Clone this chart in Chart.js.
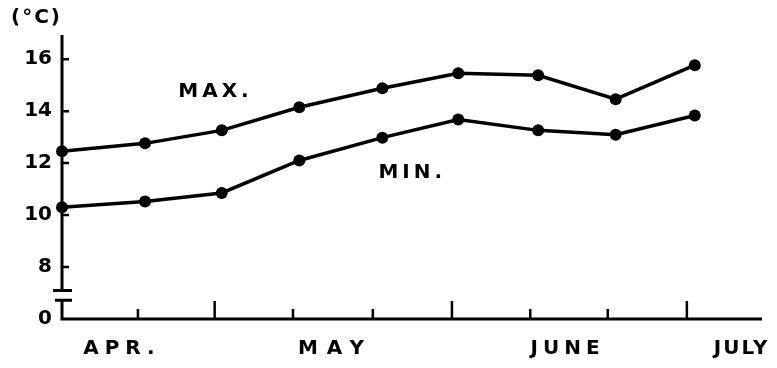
<!DOCTYPE html>
<html>
<head>
<meta charset="utf-8">
<script src="https://cdn.jsdelivr.net/npm/chart.js@4"></script>
<style>
  html, body { margin: 0; padding: 0; background: #fff; }
  canvas { display: block; }
</style>
</head>
<body>
<canvas id="tempChart" width="777" height="368"></canvas>
<script>
// ten-day mean temperatures, Apr - early July
const pointAt = [0, 1.05, 2.02, 3.0, 4.05, 5.01, 6.02, 7.0, 8.0];
const maxTemp = [12.46, 12.76, 13.26, 14.15, 14.88, 15.46, 15.38, 14.46, 15.77];
const minTemp = [10.30, 10.52, 10.85, 12.10, 12.98, 13.68, 13.26, 13.09, 13.83];

// y axis is broken below 8, the bottom tick stands for 0
const yTicks = [6, 8, 10, 12, 14, 16];
const yTickLabels = ['0', '8', '10', '12', '14', '16'];

// x tick marks, the long ones split the months
const xTicks = [0.96, 1.93, 2.92, 3.93, 4.93, 5.92, 6.90, 7.90];
const xTickLong = [false, true, false, false, true, false, false, true];
const months = ['APR.', 'MAY', 'JUNE', 'JULY'];
const monthAt = [0.72, 3.40, 6.36, 8.58];

// curve names, anchored in data units
const seriesNames = ['MAX.', 'MIN.'];
const nameAt = [[1.47, 14.53], [4.0, 11.44]];

const FONT = 'bold 20px "DejaVu Sans"';
const monthSpacing = [6, 9, 5, 2];

function pts(vals) {
    return pointAt.map((x, i) => ({ x: x, y: vals[i] }));
}

function lineSet(vals) {
    return {
        data: pts(vals),
        borderColor: '#000',
        backgroundColor: '#000',
        borderWidth: 3.5,
        pointRadius: 6,
        pointHoverRadius: 6,
        pointBackgroundColor: '#000',
        pointBorderWidth: 0,
        tension: 0,
        clip: false
    };
}

const axesPlugin = {
    id: 'axes',
    beforeDatasetsDraw(chart) {
        const ctx = chart.ctx;
        const xs = chart.scales.x, ys = chart.scales.y;
        const area = chart.chartArea;
        const x0 = xs.getPixelForValue(0);
        const yb = area.bottom;
        const brHi = ys.getPixelForValue(7.1);
        const brLo = ys.getPixelForValue(6.72);

        ctx.save();
        ctx.strokeStyle = '#000';
        ctx.lineWidth = 3;
        ctx.lineCap = 'butt';
        ctx.beginPath();
        // y axis with break
        ctx.moveTo(x0, area.top);
        ctx.lineTo(x0, brHi);
        ctx.moveTo(x0, brLo);
        ctx.lineTo(x0, yb);
        // x axis
        ctx.lineTo(area.right, yb);
        // break bars
        ctx.moveTo(x0 - 9, brHi);
        ctx.lineTo(x0 + 10, brHi);
        ctx.moveTo(x0 - 7, brLo);
        ctx.lineTo(x0 + 10, brLo);
        ctx.stroke();

        ctx.lineWidth = 2.5;
        ctx.beginPath();
        yTicks.forEach(v => {
            if (v <= 6) return;
            const y = ys.getPixelForValue(v);
            ctx.moveTo(x0, y);
            ctx.lineTo(x0 + 7, y);
        });
        xTicks.forEach((v, i) => {
            const x = xs.getPixelForValue(v);
            ctx.moveTo(x, yb);
            ctx.lineTo(x, yb - (xTickLong[i] ? 18 : 10));
        });
        ctx.stroke();

        // text
        ctx.fillStyle = '#000';
        ctx.font = FONT;
        ctx.textBaseline = 'middle';
        ctx.textAlign = 'left';
        ctx.letterSpacing = '2px';
        ctx.fillText('(°C)', 11, 18);

        ctx.textAlign = 'center';
        months.forEach((m, i) => {
            const sp = monthSpacing[i];
            ctx.letterSpacing = sp + 'px';
            ctx.fillText(m, xs.getPixelForValue(monthAt[i]) + sp / 2, 349);
        });

        ctx.textAlign = 'left';
        ctx.textBaseline = 'alphabetic';
        ctx.letterSpacing = '4px';
        seriesNames.forEach((n, i) => {
            ctx.fillText(n, xs.getPixelForValue(nameAt[i][0]), ys.getPixelForValue(nameAt[i][1]));
        });
        ctx.restore();
    }
};

const myChart = new Chart(document.getElementById('tempChart'), {
    type: 'line',
    data: { datasets: [lineSet(maxTemp), lineSet(minTemp)] },
    options: {
        responsive: false,
        animation: false,
        layout: { padding: { top: 35, right: 15, left: 0, bottom: 0 } },
        plugins: { legend: { display: false }, tooltip: { enabled: false } },
        scales: {
            x: {
                type: 'linear',
                min: 0,
                max: 8.85,
                grid: { display: false, drawTicks: false },
                border: { display: false },
                ticks: { display: false },
                afterFit: s => { s.height = 49; }
            },
            y: {
                type: 'linear',
                min: 6,
                max: 16.93,
                grid: { display: false, drawTicks: false },
                border: { display: false },
                afterBuildTicks: s => { s.ticks = yTicks.map(v => ({ value: v })); },
                ticks: {
                    padding: 10,
                    color: '#000',
                    font: { family: 'DejaVu Sans', size: 20, weight: 'bold' },
                    callback: v => yTickLabels[yTicks.indexOf(v)]
                },
                afterFit: s => { s.width = 62; }
            }
        }
    },
    plugins: [axesPlugin]
});
</script>
</body>
</html>
